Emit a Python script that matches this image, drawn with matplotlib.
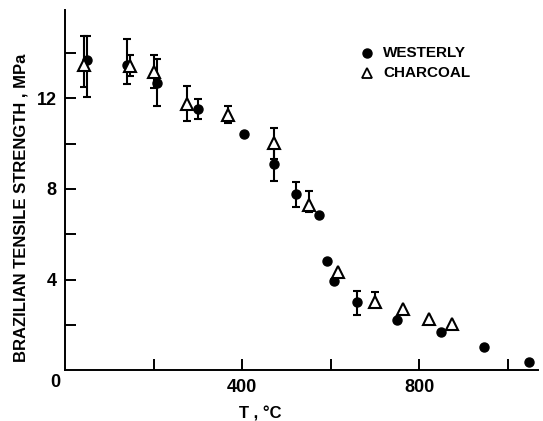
import numpy as np
import matplotlib.pyplot as plt

# --- data ---
# Westerly granite (filled circles)
west_T = [49, 139, 208, 301, 405, 472, 521, 573, 592, 608, 660, 749, 848, 947, 1047]
west_S = [13.71, 13.49, 12.69, 11.52, 10.42, 9.10, 7.78, 6.86, 4.82, 3.93, 3.00, 2.20, 1.67, 1.04, 0.35]
west_lo = [12.04, 12.63, 11.66, 11.08, None, 8.37, 7.19, None, None, None, 2.44, None, None, None, None]
west_hi = [14.77, 14.62, 13.72, 11.96, None, 9.83, 8.33, None, None, None, 3.48, None, None, None, None]

# Charcoal granite (open triangles)
char_T = [44, 147, 201, 275, 369, 472, 551, 616, 700, 763, 822, 874]
char_S = [13.46, 13.42, 13.17, 11.77, 11.25, 10.01, 7.30, 4.33, 3.00, 2.70, 2.25, 2.05]
char_lo = [12.51, 12.98, 12.45, 11.00, 10.89, 9.31, 6.97, None, 2.80, None, None, None]
char_hi = [14.77, 13.93, 13.89, 12.53, 11.66, 10.71, 7.89, None, 3.46, None, None, None]

FONT = 'Liberation Sans'


def draw_errbars(ax, T, S, lo, hi):
    # only the points that carry a bar in the original
    idx = [i for i in range(len(T)) if lo[i] is not None]
    x = np.array([T[i] for i in idx])
    y = np.array([S[i] for i in idx])
    yerr = np.array([[S[i] - lo[i] for i in idx], [hi[i] - S[i] for i in idx]])
    ax.errorbar(x, y, yerr=yerr, fmt='none', ecolor='black',
                elinewidth=1.5, capsize=3, capthick=1.5, zorder=2)


fig = plt.figure(figsize=(5.43, 4.21), dpi=100)
ax = fig.add_axes([0.1197, 0.1204, 0.871, 0.856])

draw_errbars(ax, west_T, west_S, west_lo, west_hi)
draw_errbars(ax, char_T, char_S, char_lo, char_hi)

ax.plot(west_T, west_S, 'o', color='black', markersize=6.5, zorder=3)
ax.plot(char_T, char_S, '^', markerfacecolor='white', markeredgecolor='black',
        markersize=8, markeredgewidth=1.5, zorder=4)

ax.set_xlim(0, 1068)
ax.set_ylim(0, 15.9)

for side in ['top', 'right']:
    ax.spines[side].set_visible(False)
for side in ['left', 'bottom']:
    ax.spines[side].set_linewidth(1.4)

ax.set_xticks([400, 800])
ax.set_xticks([200, 600, 1000], minor=True)
ax.set_yticks([4, 8, 12])
ax.set_yticks([2, 6, 10, 14], minor=True)
ax.tick_params(which='both', direction='in', length=8, width=1.4)
ax.tick_params(axis='both', labelsize=13, pad=6)
for lab in ax.get_xticklabels() + ax.get_yticklabels():
    lab.set_fontfamily(FONT)
    lab.set_fontweight('bold')

# shared corner zero
ax.text(-0.020, -0.0325, '0', transform=ax.transAxes, ha='center', va='center',
        fontsize=13, fontweight='bold', family=FONT)

ax.set_xlabel('T , °C', fontsize=12, fontweight='bold', family=FONT)
ax.xaxis.set_label_coords(441 / 1068, -0.1)
ax.set_ylabel('BRAZILIAN TENSILE STRENGTH , MPa', fontsize=12, fontweight='bold', family=FONT)
ax.yaxis.set_label_coords(-0.078, 0.452)

# legend drawn by hand as in the original figure
ax.plot([682], [14.0], 'o', color='black', markersize=6.5)
ax.text(718, 14.0, 'WESTERLY', va='center', fontsize=11, fontweight='bold', family=FONT)
ax.plot([682], [13.13], '^', markerfacecolor='white', markeredgecolor='black',
        markersize=7, markeredgewidth=1.3)
ax.text(718, 13.13, 'CHARCOAL', va='center', fontsize=11, fontweight='bold', family=FONT)

fig.savefig('out.png', dpi=100)
